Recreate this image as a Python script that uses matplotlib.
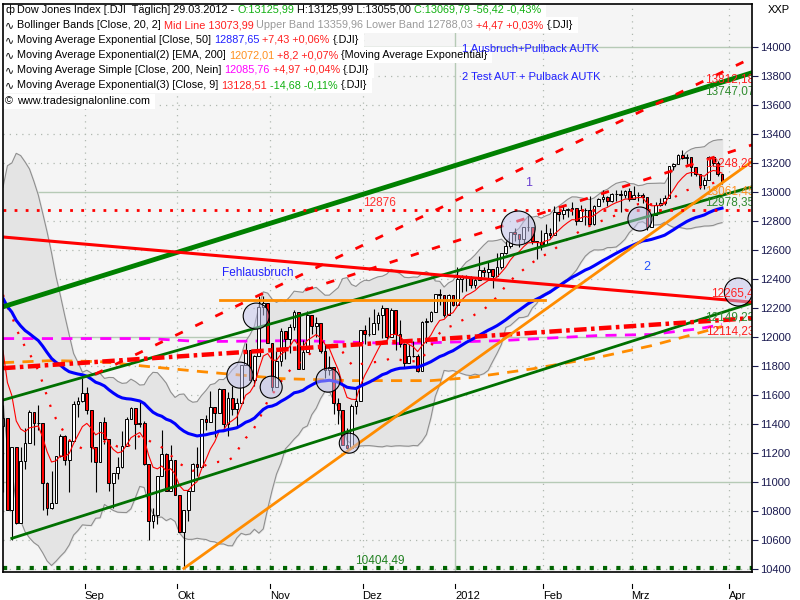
import numpy as np
import pandas as pd
import matplotlib
matplotlib.use('Agg')
import matplotlib.pyplot as plt
from matplotlib.patches import Ellipse, Rectangle

W, H = 800, 600
FONT = ['Liberation Sans', 'DejaVu Sans']
plt.rcParams['font.family'] = FONT

# closes before the visible window (Jul 8 - Aug 4 2011), only used to warm up the indicators
pre_closes = [12657.2, 12505.8, 12446.9, 12491.6, 12437.1, 12479.7, 12385.2, 12587.4, 12571.9, 12724.4,
              12681.2, 12592.8, 12501.3, 12302.6, 12240.1, 12143.2, 12132.5, 11866.6, 11896.4, 11383.7]

# daily bars Aug 5 2011 - Mar 29 2012 (DJI opens at the prior close)
closes = [
    # Aug
    11444.6, 10809.9, 11239.8, 10719.9, 11143.3, 11269.0, 11482.9, 11405.9, 11410.2, 10990.6,
    10817.7, 10854.7, 11176.8, 11320.7, 11149.8, 11284.5, 11539.3, 11559.9, 11613.5,
    # Sep
    11493.6, 11240.3, 11139.3, 11414.9, 11295.8, 10992.1, 11061.1, 11105.9, 11246.7, 11433.2,
    11509.1, 11401.0, 11408.7, 11124.8, 10733.8, 10771.5, 11043.9, 11190.7, 10938.9, 11153.9, 10913.4,
    # Oct
    10655.3, 10808.7, 10939.9, 11123.3, 11103.1, 11433.2, 11416.3, 11518.9, 11478.1, 11644.5,
    11397.0, 11577.1, 11504.6, 11541.8, 11808.8, 11913.6, 11706.6, 11869.0, 12208.6, 12231.1, 11955.0,
    # Nov
    11657.9, 11836.0, 12044.5, 11983.2, 12068.5, 12170.2, 11780.9, 11893.9, 12153.7, 12079.0,
    12096.2, 11905.6, 11770.7, 11796.2, 11547.3, 11493.7, 11257.6, 11231.8, 11523.0, 11555.6, 12045.7,
    # Dec
    12020.0, 12019.4, 12097.8, 12150.1, 12196.4, 11997.7, 12184.3, 12021.4, 11954.9, 11823.5,
    11868.8, 11866.4, 11766.3, 12103.6, 12107.7, 12169.7, 12294.0, 12291.4, 12151.4, 12287.0, 12217.6,
    # Jan
    12397.4, 12418.4, 12415.7, 12359.9, 12392.7, 12462.5, 12449.5, 12471.0, 12422.1, 12482.1,
    12578.9, 12624.0, 12720.5, 12708.8, 12675.8, 12757.0, 12757.0, 12660.5, 12653.7, 12632.9,
    # Feb
    12716.5, 12705.4, 12862.2, 12845.1, 12878.2, 12884.0, 12890.5, 12801.2, 12874.0, 12878.3,
    12781.0, 12904.1, 12949.9, 12965.7, 12938.7, 12984.7, 12983.0, 12981.2, 13005.1, 12952.1,
    # Mar
    12980.3, 12977.6, 12962.8, 12759.2, 12837.3, 12907.9, 12922.0, 12959.7, 13177.7, 13194.1,
    13252.8, 13232.6, 13239.1, 13170.2, 13124.6, 13046.1, 13080.7, 13241.6, 13197.7, 13126.2, 13069.79,
]
opens = [
    11383.7, 11444.6, 10809.9, 11239.8, 10719.9, 11143.3, 11269.0, 11482.9, 11405.9, 11410.2,
    10990.6, 10817.7, 10854.7, 11176.8, 11320.7, 11149.8, 11284.5, 11539.3, 11559.9,
    11613.5, 11493.6, 11240.3, 11139.3, 11414.9, 11295.8, 10992.1, 11061.1, 11105.9, 11246.7,
    11433.2, 11509.1, 11401.0, 11408.7, 11124.8, 10733.8, 10771.5, 11043.9, 11190.7, 10938.9, 11153.9,
    10913.4, 10655.3, 10808.7, 10939.9, 11123.3, 11103.1, 11433.2, 11416.3, 11518.9, 11478.1,
    11644.5, 11397.0, 11577.1, 11504.6, 11541.8, 11808.8, 11913.6, 11706.6, 11869.0, 12208.6, 12231.1,
    11955.0, 11657.9, 11836.0, 12044.5, 11983.2, 12068.5, 12170.2, 11780.9, 11893.9, 12153.7,
    12079.0, 12096.2, 11905.6, 11770.7, 11796.2, 11547.3, 11493.7, 11257.6, 11231.8, 11523.0, 11555.6,
    12045.7, 12020.0, 12019.4, 12097.8, 12150.1, 12196.4, 11997.7, 12184.3, 12021.4, 11954.9,
    11823.5, 11868.8, 11866.4, 11766.3, 12103.6, 12107.7, 12169.7, 12294.0, 12291.4, 12151.4, 12287.0,
    12217.6, 12397.4, 12418.4, 12415.7, 12359.9, 12392.7, 12462.5, 12449.5, 12471.0, 12422.1,
    12482.1, 12578.9, 12624.0, 12720.5, 12708.8, 12675.8, 12757.0, 12757.0, 12660.5, 12653.7,
    12632.9, 12716.5, 12705.4, 12862.2, 12845.1, 12878.2, 12884.0, 12890.5, 12801.2, 12874.0,
    12878.3, 12781.0, 12904.1, 12949.9, 12965.7, 12938.7, 12984.7, 12983.0, 12981.2, 13005.1,
    12952.1, 12980.3, 12977.6, 12962.8, 12759.2, 12837.3, 12907.9, 12922.0, 12959.7, 13177.7,
    13194.1, 13252.8, 13232.6, 13239.1, 13170.2, 13124.6, 13046.1, 13080.7, 13241.6, 13197.7, 13125.99,
]
highs = [
    11530, 11434, 11244, 11239, 11244, 11370, 11494, 11482, 11531, 11410,
    11000, 11075, 11178, 11330, 11321, 11300, 11556, 11583, 11716,
    11655, 11494, 11240, 11415, 11450, 11296, 11063, 11175, 11350, 11450,
    11520, 11509, 11560, 11420, 11125, 10820, 11045, 11360, 11200, 11255, 11150,
    10913, 10810, 10950, 11130, 11240, 11433, 11460, 11625, 11478, 11645,
    11644, 11620, 11660, 11580, 11810, 11960, 11913, 11875, 12285, 12284, 12231,
    11955, 11900, 12060, 12044, 12090, 12187, 12170, 11980, 12180, 12154,
    12135, 12096, 11950, 11870, 11796, 11580, 11493, 11370, 11540, 11650, 12050,
    12080, 12140, 12190, 12175, 12220, 12196, 12200, 12184, 12120, 11955,
    11950, 11970, 11880, 12110, 12130, 12180, 12295, 12330, 12292, 12295, 12290,
    12480, 12430, 12430, 12420, 12415, 12560, 12480, 12520, 12470, 12580,
    12580, 12660, 12720, 12750, 12710, 12760, 12840, 12760, 12660, 12740,
    12780, 12750, 12900, 12870, 12900, 12890, 12930, 12890, 12910, 12890,
    12970, 12910, 12960, 13010, 12970, 12990, 13010, 13010, 13010, 13030,
    13040, 13000, 12990, 12960, 12850, 12930, 12960, 12980, 13180, 13200,
    13260, 13290, 13260, 13240, 13170, 13124, 13100, 13245, 13250, 13210, 13126,
]
lows = [
    10933, 10809, 10604, 10712, 10719, 11087, 11269, 11253, 11356, 10808,
    10771, 10816, 10855, 11171, 11117, 10930, 11285, 11447, 11554,
    11466, 11140, 10932, 11140, 11260, 10940, 10820, 11022, 11100, 11246,
    11433, 11230, 11380, 11120, 10598, 10680, 10710, 11041, 10935, 10939, 10913,
    10655, 10404.5, 10730, 10938, 11040, 11104, 11360, 11417, 11310, 11480,
    11370, 11320, 11460, 11380, 11542, 11808, 11700, 11660, 11870, 12150, 11955,
    11630, 11658, 11800, 11850, 11890, 12050, 11780, 11782, 11894, 12020,
    12000, 11890, 11720, 11735, 11470, 11400, 11255, 11230, 11232, 11470, 11556,
    11950, 12010, 12020, 12050, 11990, 11980, 12000, 11910, 11930, 11785,
    11830, 11860, 11760, 11766, 11960, 12100, 12170, 12220, 12140, 12150, 12210,
    12217, 12310, 12320, 12340, 12340, 12390, 12410, 12390, 12340, 12480,
    12470, 12570, 12610, 12660, 12620, 12650, 12730, 12640, 12540, 12600,
    12633, 12680, 12705, 12800, 12810, 12830, 12840, 12770, 12800, 12770,
    12770, 12770, 12900, 12930, 12900, 12930, 12940, 12860, 12960, 12940,
    12950, 12940, 12920, 12740, 12760, 12840, 12900, 12910, 12960, 13150,
    13190, 13230, 13190, 13110, 13110, 13020, 13020, 13082, 13180, 13110, 13055,
]

ema50_seed = 12300          # value of EMA 50 just before the window
sma200_idx = [0, 33, 45, 67, 90, 113, 135, 147, 158, 163]
sma200_val = [11989, 11989, 11968, 11975, 11954, 11975, 12010, 12017, 12058, 12085.76]
ema200_idx = [0, 11, 22, 33, 45, 63, 79, 97, 106, 120, 135, 147, 158, 163]
ema200_val = [11823, 11837, 11830, 11796, 11761, 11713, 11699, 11699, 11720, 11780, 11860, 11940, 12030, 12072.01]

tick_idx = [19, 40, 61, 82, 103, 123, 143, 165]
tick_labels = ['Sep', 'Okt', 'Nov', 'Dez', '2012', 'Feb', 'Mrz', 'Apr']

# hand drawn trend lines: (x0, y0, x1, y1)
green_thick = (-0.2, 12206, 169.8, 13821)
green_mid = (0, 11565, 169.8, 13035)
green_low = (2.0, 10612, 169.8, 12234)
red_down = (0, 12689, 169.8, 12240)
red_dash1 = (20.9, 11744, 169.8, 13924)
red_dash2 = (68.5, 12323, 169.8, 13324)
red_dashdot = (0, 11785, 169.8, 12130)
orange_flat = (49.2, 12254, 122.9, 12254)
orange_up = (41, 10404.49, 169.8, 13210)
red_level = 12876
green_level = 10404.49

# circles: (bar, value, radius in px)
circles = [(57.4, 12144, 13), (53.7, 11737, 13), (60.8, 11654, 11), (73.7, 11702, 12),
           (78.5, 11268, 10), (116.8, 12751, 17), (144.4, 12813, 12), (166.7, 12310, 14)]

right_labels = [('13812,18', 13772, '#ff2020'), ('13747,07', 13690, '#2e8b2e'),
                ('13248,28', 13193, '#ff2020'), ('13061,45', 13000, '#ff9020'),
                ('12978,35', 12924, '#2e8b2e'), ('12265,4', 12303, '#ff2020'),
                ('12149,23', 12135, '#2e8b2e'), ('12114,23', 12040, '#ff2020')]

# ---- indicators ----
c_all = pd.Series(pre_closes + closes)
n_pre = len(pre_closes)
mid20 = c_all.rolling(20).mean().values[n_pre:]
std20 = c_all.rolling(20).std(ddof=0).values[n_pre:]
bb_up = mid20 + 2 * std20
bb_lo = mid20 - 2 * std20
ema9 = c_all.ewm(span=9, adjust=False).mean().values[n_pre:]
ema50 = pd.Series([ema50_seed] + closes).ewm(span=50, adjust=False).mean().values[1:]

n = len(closes)
idx = np.arange(n)
o = np.array(opens); c = np.array(closes); hi = np.array(highs); lo = np.array(lows)

fig = plt.figure(figsize=(8, 6), dpi=100)
fig.patch.set_facecolor('white')
L, R, T, B = 3, 752, 4, 572
ax = fig.add_axes([L / W, 1 - B / H, (R - L) / W, (B - T) / H])
ax.set_facecolor('#f5f5f5')
ax.set_xlim(0, 169.8)
ax.set_ylim(10380, 14295)

# grid
for v in range(10400, 14001, 200):
    if v % 1000 == 0:
        ax.axhline(v, color='#b6cab6', lw=1, zorder=0.5)
    else:
        ax.axhline(v, color='#b0b8b0', lw=0.9, ls=(0, (1, 4)), zorder=0.5)
for t, lab in zip(tick_idx, tick_labels):
    if lab == '2012':
        ax.axvline(t - 0.5, color='#b6cab6', lw=1, zorder=0.5)
    else:
        ax.axvline(t - 0.5, color='#b0b8b0', lw=0.9, ls=(0, (1, 4)), zorder=0.5)

# bollinger
ax.fill_between(idx, bb_lo, bb_up, color='#e4e4e4', zorder=1)
ax.plot(idx, bb_up, color='#8f8f8f', lw=0.8, zorder=1.2)
ax.plot(idx, bb_lo, color='#8f8f8f', lw=0.8, zorder=1.2)

# long averages
ax.plot(sma200_idx, sma200_val, color='#ff00ff', lw=2, ls=(0, (4, 3)), zorder=2)
ax.plot(ema200_idx, ema200_val, color='#ff8c00', lw=2, ls=(0, (4, 3)), zorder=2)

# candles
up = c >= o
ax.vlines(idx, lo, hi, color='black', lw=0.8, zorder=3)
ax.bar(idx[up], (c - o)[up], bottom=o[up], width=0.62, color='white', edgecolor='black', lw=0.7, zorder=3.1)
ax.bar(idx[~up], (o - c)[~up], bottom=c[~up], width=0.62, color='#ff0000', edgecolor='black', lw=0.7, zorder=3.1)

ax.plot(idx, mid20, color='#ff0000', lw=1.6, ls=(0, (1, 5)), zorder=3.5)
ax.plot(idx, ema9, color='#ff0000', lw=0.8, zorder=3.5)
ax.plot(idx, ema50, color='#0000ff', lw=2.2, zorder=3.6)


def seg(line, **kw):
    ax.plot([line[0], line[2]], [line[1], line[3]], **kw)


seg(green_thick, color='#008000', lw=3.5, zorder=4)
seg(green_mid, color='#007000', lw=2, zorder=4)
seg(green_low, color='#007000', lw=2, zorder=4)
seg(red_down, color='#ff0000', lw=2.2, zorder=4)
seg(red_dash1, color='#ff0000', lw=2, ls=(0, (3, 5)), zorder=4)
seg(red_dash2, color='#ff0000', lw=2, ls=(0, (3, 5)), zorder=4)
seg(red_dashdot, color='#ff0000', lw=3.2, ls=(0, (2.8, 1, 0.8, 1)), zorder=4)
seg(orange_flat, color='#ff8c00', lw=2, zorder=4)
seg(orange_up, color='#ff8c00', lw=2, zorder=4)
ax.axhline(red_level, color='#ff0000', lw=2, ls=(0, (1, 3)), zorder=4)
ax.axhline(green_level, color='#006400', lw=3, ls=(0, (1, 2.2)), zorder=4)

px_x = (R - L) / 169.8
px_y = (B - T) / (14295 - 10380)
for cx, cy, r in circles:
    ax.add_patch(Ellipse((cx, cy), 2 * r / px_x, 2 * r / px_y, facecolor=(0.76, 0.76, 0.93, 0.5),
                         edgecolor='black', lw=0.8, zorder=5))

# legend block, drawn inside the axes so the annotations stay on top
renderer = fig.canvas.get_renderer()
GAP = 3


def rich(y, parts, icon, size=7.8):
    ax.text(5 / W, 1 - y / H, icon, fontsize=size, va='center', ha='left', zorder=8,
            transform=fig.transFigure)
    x = 17
    for s, col in parts:
        t = ax.text(x / W, 1 - y / H, s, color=col, fontsize=size, va='center', ha='left', zorder=8,
                    transform=fig.transFigure)
        x += t.get_window_extent(renderer).width + GAP
    ax.add_patch(Rectangle((3 / W, 1 - (y + 7.5) / H), (x + 2 - 3) / W, 15 / H, clip_on=False,
                           transform=fig.transFigure, facecolor='white', edgecolor='none', zorder=7))


K, GR, RD, GY = 'black', '#10b010', '#ff2020', '#9a9a9a'
rich(10, [('Dow Jones Index [.DJI  Täglich] 29.03.2012 -', K), ('O:13125,99', GR),
          ('H:13125,99 L:13055,00', K), ('C:13069,79 -56,42 -0,43%', GR)], 'ф')
rich(25, [('Bollinger Bands [Close, 20, 2]', K), ('Mid Line 13073,99', RD),
          ('Upper Band 13359,96 Lower Band 12788,03', GY), ('+4,47 +0,03%', RD), ('{.DJI}', K)], '∿')
rich(40, [('Moving Average Exponential [Close, 50]', K), ('12887,65', '#2020ff'),
          ('+7,43 +0,06%', RD), ('{.DJI}', K)], '∿')
rich(55, [('Moving Average Exponential(2) [EMA, 200]', K), ('12072,01', '#ff9020'),
          ('+8,2 +0,07%', RD), ('{Moving Average Exponential}', K)], '∿')
rich(70, [('Moving Average Simple [Close, 200, Nein]', K), ('12085,76', '#ff00ff'),
          ('+4,97 +0,04%', RD), ('{.DJI}', K)], '∿')
rich(85, [('Moving Average Exponential(3) [Close, 9]', K), ('13128,51', RD),
          ('-14,68 -0,11%', GR), ('{.DJI}', K)], '∿')
rich(101, [('www.tradesignalonline.com', K)], '©')

# annotations
ax.text(49.7, 12440, 'Fehlausbruch', color='#2020ff', fontsize=8.5, va='center', zorder=9)
ax.text(118.4, 13062, '1', color='#6a3fd0', fontsize=9, va='center', zorder=9)
ax.text(145.1, 12482, '2', color='#2050ff', fontsize=9, va='center', zorder=9)
ax.text(81.6, 12924, '12876', color='#ff3030', fontsize=8.5, va='center', zorder=9)
ax.text(79.8, 10460, '10404,49', color='#208020', fontsize=8.5, va='center', zorder=9)
ax.text(104, 13985, '1 Ausbruch+Pullback AUTK', color='#2020ff', fontsize=8, va='center', zorder=9)
ax.text(104, 13792, '2 Test AUT + Pulback AUTK', color='#2020ff', fontsize=8, va='center', zorder=9)
for s, v, col in right_labels:
    ax.text(170.3, v, s, color=col, fontsize=8.5, ha='right', va='center', zorder=9, clip_on=True)

# axes
ax.yaxis.tick_right()
ax.set_yticks(range(10400, 14001, 200))
ax.set_yticklabels([str(v) for v in range(10400, 14001, 200)])
ax.tick_params(axis='y', colors='#1a1a50', labelsize=8, length=4, width=0.8, pad=2)
ax.set_xticks([t - 0.5 for t in tick_idx])
ax.set_xticklabels(tick_labels)
ax.tick_params(axis='x', length=0, pad=14, labelsize=8)
for lab in ax.get_xticklabels():
    lab.set_horizontalalignment('left')
for t in tick_idx:
    ax.plot([t - 0.5, t - 0.5], [-0.021, -0.028], color='black', lw=0.8,
            transform=ax.get_xaxis_transform(), clip_on=False)
for sp in ax.spines.values():
    sp.set_linewidth(1.2)
    sp.set_zorder(10)
fig.text(768 / W, 1 - 10 / H, 'XXP', fontsize=8, va='center', ha='left')

fig.savefig('out.png', dpi=100)
